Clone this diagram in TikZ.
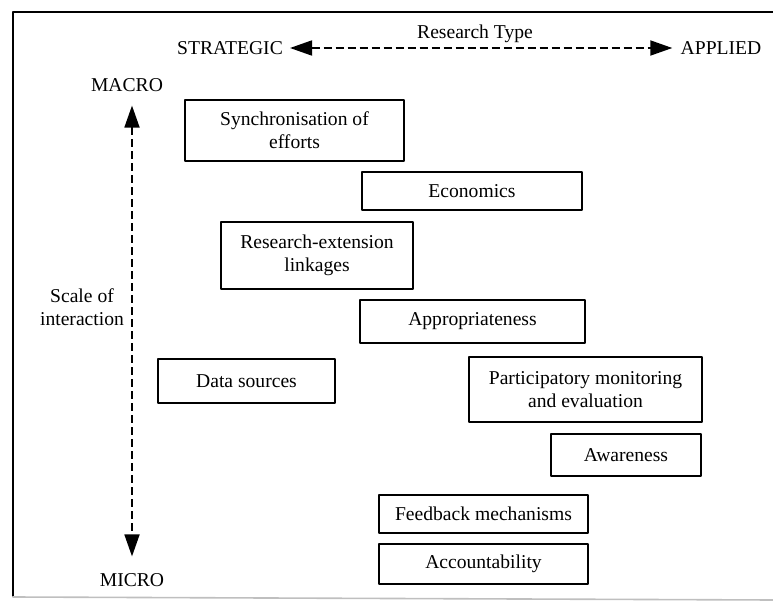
\documentclass[tikz,border=0pt]{standalone}
\usepackage{fontspec}
\setmainfont{Liberation Serif}
\usetikzlibrary{arrows.meta}
\begin{document}
\begin{tikzpicture}[x=0.5pt,y=-0.5pt,>={Triangle[length=11pt,width=7.5pt]},font=\fontsize{9.8}{11.5}\selectfont,line join=round,line cap=round,
	box/.style={draw,line width=1pt,inner sep=0pt,align=center},
	lab/.style={inner sep=0pt,align=center},
	axis/.style={<->,line width=0.9pt,line cap=butt,dash pattern=on 4pt off 2pt}]
	\useasboundingbox (0,0) rectangle (773,605);
	% frame of the scanned figure
	\draw[line width=0.9pt] (773,12)--(13,12)--(13,596);
	\draw[gray!50,line width=0.8pt] (13,597)--(773,600);
	% axis labels
	\node[lab] (strat) at (230,48) {STRATEGIC};
	\node[lab] (appl) at (721,48) {APPLIED};
	\node[lab] (rtype) at (475,34) {Research Type};
	\node[lab] (macro) at (127,85) {MACRO};
	\node[lab] (micro) at (132,580) {MICRO};
	\node[lab] (scale) at (82,307) {Scale of\\interaction};
	\draw[axis,shorten <=3.4pt,shorten >=4pt] (strat)--(appl);
	\draw[axis,shorten <=6.8pt,shorten >=8.3pt] (macro.south -| micro)--(micro);
	% boxes
	\foreach \n/\cx/\cy/\w/\h/\t in{sync/294.5/130.5/219/61/{Synchronisation of\\efforts},econ/472/191/220/38/{Economics},link/317/255.5/192/67/{Research-extension\\linkages},appr/472.5/321.5/225/43/{Appropriateness},data/246.5/381/177/44/{Data sources},pme/585.5/389.5/233/65/{Participatory monitoring\\and evaluation},awar/626/455/150/42/{Awareness},feed/483.5/514/209/38/{Feedback mechanisms},acct/483.5/564/209/40/{Accountability}}
	\node[box,minimum width=\w*0.5pt,minimum height=\h*0.5pt] (\n) at (\cx,\cy) {\t};
\end{tikzpicture}
\end{document}
